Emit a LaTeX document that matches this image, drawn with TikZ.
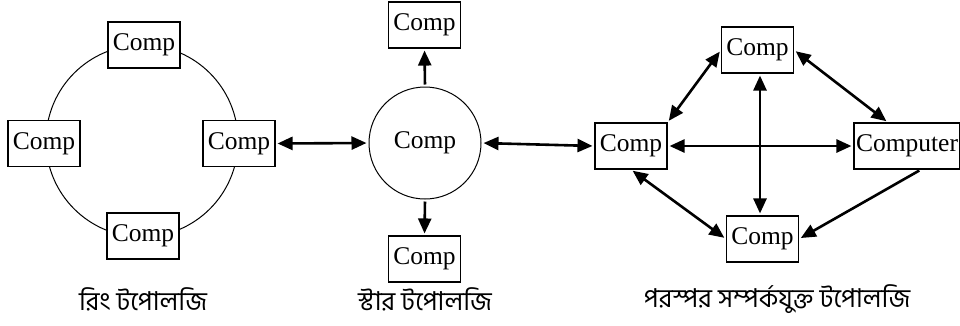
\documentclass[tikz,border=0pt]{standalone}
\usepackage{fontspec}
\setmainfont{Liberation Serif}
\newfontfamily\bnfont[Script=Bengali]{Hind Siliguri}
\usetikzlibrary{arrows.meta}
\begin{document}
\begin{tikzpicture}[x=1pt,y=-1pt,
  box/.style={draw,line width=1.1pt,fill=white,minimum width=72pt,minimum height=46pt,
    inner xsep=2pt,font=\fontsize{25.5}{28}\selectfont},
  hub/.style={draw,line width=1pt,circle,minimum size=112pt,inner sep=0pt,
    font=\fontsize{25.5}{28}\selectfont},
  link/.style={line width=2.6pt,shorten <=2pt,shorten >=2pt,{Triangle[length=15pt,width=13pt]}-{Triangle[length=15pt,width=13pt]}},
  onelink/.style={line width=2.6pt,shorten <=2pt,shorten >=2pt,-{Triangle[length=15pt,width=13pt]}},
  caption/.style={font=\bnfont\fontsize{26}{30}\selectfont}]
\useasboundingbox (0,0) rectangle (960,325);

% ring topology
\draw[line width=1pt] (142,141) circle[radius=96];
\node[box] (rt) at (144,45) {Comp};
\node[box] (rl) at (44,143.5) {Comp};
\node[box] (rr) at (239,143.5) {Comp};
\node[box] (rb) at (143,236) {Comp};
\node[caption] (rcap) at (143,299) {রিং টপোলজি};

% star topology
\node[hub] (sc) at (425,143) {Comp};
\node[box] (st) at (424.5,25) {Comp};
\node[box] (sb) at (424.5,259) {Comp};
\node[caption] (scap) at (425,299) {স্টার টপোলজি};
\draw[onelink] (sc.north) -- (st.south);
\draw[onelink] (sc.south) -- (sb.north);

% mesh topology
\node[box] (ml) at (631,146) {Comp};
\node[box] (mt) at (757.5,50) {Comp};
\node[box] (mr) at (907,146) {Computer};
\node[box] (mb) at (762.5,239) {Comp};
\node[caption] (mcap) at (777,299) {পরস্পর সম্পর্কযুক্ত টপোলজি};

% links between the topologies
\draw[link] (rr.east) -- (sc.west);
\draw[link] (sc.east) -- (ml.west);

% mesh links
\draw[link] (ml.north east) -- (mt.west);
\draw[link] (mt.east) -- ([xshift=-19pt]mr.north);
\draw[link] (ml.east) -- (mr.west);
\draw[link] ([xshift=2.5pt]mt.south) -- ([xshift=-2.5pt]mb.north);
\draw[link] (ml.south) -- (mb.west);
\draw[onelink] ([xshift=14pt]mr.south) -- (mb.east);
\end{tikzpicture}
\end{document}
